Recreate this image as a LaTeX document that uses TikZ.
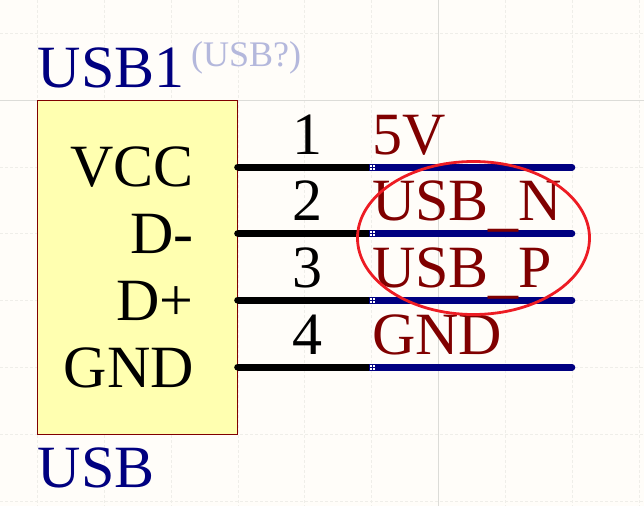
\documentclass[tikz,border=0pt]{standalone}
\usepackage{fontspec}
\usetikzlibrary{calc,shapes.geometric}
\setmainfont{Liberation Serif}
\definecolor{paper}{HTML}{FFFDF9}
\definecolor{gridline}{HTML}{EFEEE9}
\definecolor{gridmain}{HTML}{DCDCD8}
\definecolor{bodyfill}{HTML}{FFFFB0}
\definecolor{bodyedge}{HTML}{800000}
\definecolor{netblue}{HTML}{000080}
\definecolor{netred}{HTML}{800000}
\definecolor{markred}{HTML}{ED1C24}
\definecolor{faintblue}{HTML}{B4B8DC}
\newcommand{\lowbar}{\raisebox{-4.5pt}{\_}}
\tikzset{
	pinname/.style={anchor=base east,inner sep=0pt,font=\fontsize{60}{60}\selectfont},
	pinnum/.style={anchor=base,inner sep=0pt,font=\fontsize{60}{60}\selectfont},
	netname/.style={anchor=base west,inner sep=0pt,text=netred,font=\fontsize{60}{60}\selectfont},
	comptext/.style={anchor=base west,inner sep=0pt,text=netblue,font=\fontsize{60}{60}\selectfont},
	pinline/.style={line width=6.6pt,line cap=round},
	wire/.style={line width=6.6pt,line cap=round,netblue}
}
\begin{document}
\begin{tikzpicture}[x=1pt,y=-1pt]
	\useasboundingbox (0,0) rectangle (644,506);
	\fill[paper] (0,0) rectangle (644,506);

	% Grid
	\foreach \x in {37.5,104,171,238,304.5,371,505,572,639}
		\draw[gridline,densely dashed,line width=0.6pt] (\x,0) -- (\x,506);
	\foreach \y in {33,167,233.5,300,367,434,501}
		\draw[gridline,densely dashed,line width=0.6pt] (0,\y) -- (644,\y);
	\draw[gridmain,line width=0.9pt] (438,0) -- (438,506);
	\draw[gridmain,line width=0.9pt] (0,100) -- (644,100);

	% Part body
	\node[draw=bodyedge,fill=bodyfill,line width=0.8pt,minimum width=200pt,minimum height=333.5pt,inner sep=0pt,anchor=north west] (body) at (37.3,100.3) {};

	% Pins and wires
	\foreach \y/\n in {167.3/a,233.5/b,300.3/c,367.3/d} {
		\coordinate (pin\n) at (237.5,\y);
		\coordinate (mid\n) at (369,\y);
		\coordinate (end\n) at (572,\y);
		\draw[wire] (mid\n) -- (end\n);
		\draw[pinline,line cap=butt] (pin\n) -- (mid\n);
		\fill[pinline,line cap=round] (pin\n) circle (3.3);
		\fill[white] ($(mid\n)+(1,-2.5)$) rectangle +(2,2);
		\fill[white] ($(mid\n)+(4.4,-2.5)$) rectangle +(2,2);
		\fill[white] ($(mid\n)+(1,0.7)$) rectangle +(2,2);
		\fill[white] ($(mid\n)+(4.4,0.7)$) rectangle +(2,2);
	}

	% Designators
	\node[comptext] (refdes) at (37.5,87) {USB1};
	\node[anchor=base west,inner sep=0pt,text=faintblue,font=\fontsize{36}{36}\selectfont] (oldref) at (191,66) {(USB?)};
	\node[comptext] (comment) at (37.5,487) {USB};

	% Pin names
	\node[pinname] (vcc) at (194,186) {VCC};
	\node[pinname] (dm) at (194,253) {D-};
	\node[pinname] (dp) at (194,320) {D+};
	\node[pinname] (gnd) at (194,387) {GND};

	% Pin numbers
	\node[pinnum] (n1) at (307,154) {1};
	\node[pinnum] (n2) at (307,220) {2};
	\node[pinnum] (n3) at (307,287) {3};
	\node[pinnum] (n4) at (307,354) {4};

	% Net labels
	\node[netname] (net1) at (372,154) {5V};
	\node[netname] (net2) at (372,220) {USB\lowbar N};
	\node[netname] (net3) at (372,287) {USB\lowbar P};
	\node[netname] (net4) at (372,354) {GND};

	% Marker
	\node[draw=markred,line width=2.8pt,ellipse,minimum width=232pt,minimum height=153pt,inner sep=0pt] (mark) at (473.5,238) {};
\end{tikzpicture}
\end{document}
